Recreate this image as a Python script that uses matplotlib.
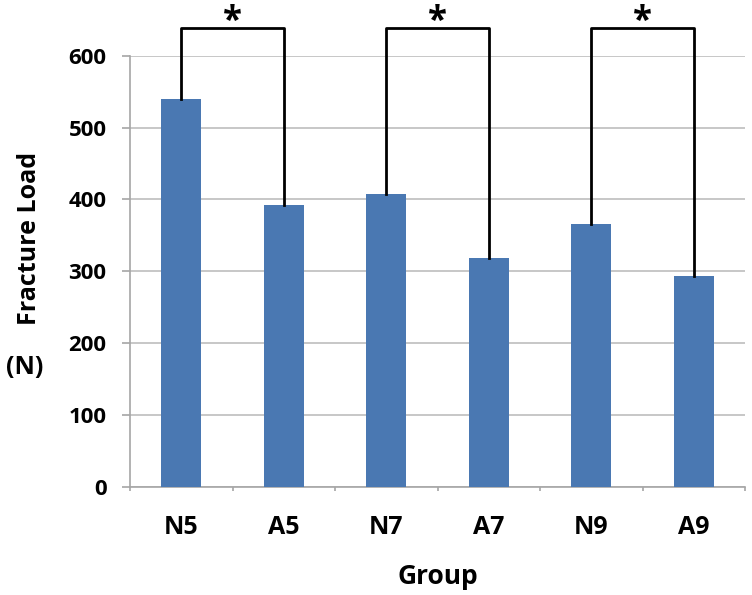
import matplotlib
matplotlib.use("Agg")
import matplotlib.pyplot as plt

categories = ["N5", "A5", "N7", "A7", "N9", "A9"]
values = [540, 392, 407, 318, 366, 293]
yticks = [0, 100, 200, 300, 400, 500, 600]
pairs = [(0, 1), (2, 3), (4, 5)]
bracket_level = 639
sig_label = "*"

plt.rcParams['font.family'] = ['Open Sans', 'DejaVu Sans']

fig = plt.figure(figsize=(7.52, 5.95), dpi=100)
ax = fig.add_axes([130/752, 1 - 487/595, 615/752, (487 - 55.7)/595])

x = list(range(len(categories)))
ax.bar(x, values, width=0.39, color='#4A78B2', zorder=3)

ax.set_xlim(-0.5, len(categories) - 0.5)
ax.set_ylim(0, 600)
ax.set_yticks(yticks)
ax.set_yticklabels([str(t) for t in yticks], fontsize=16, fontweight='bold')
ax.set_xticks(x)
ax.set_xticklabels(categories, fontsize=18, fontweight='bold')
ax.set_xticks([i - 0.5 for i in range(len(categories) + 1)], minor=True)

ax.grid(axis='y', color='#BDBDBD', linewidth=1.2, zorder=0)
for s in ['top', 'right']:
    ax.spines[s].set_visible(False)
for s in ['left', 'bottom']:
    ax.spines[s].set_color('#A6A6A6')
    ax.spines[s].set_linewidth(1.2)
ax.tick_params(axis='y', length=6, color='#A6A6A6', width=1.2, pad=11)
ax.tick_params(axis='x', which='major', length=0, pad=20)
ax.tick_params(axis='x', which='minor', length=3, color='#A6A6A6', width=1.2)

for a, b in pairs:
    ax.plot([a, a, b, b], [values[a], bracket_level, bracket_level, values[b]],
            color='black', linewidth=2, clip_on=False, zorder=4)
    ax.text((a + b) / 2, 672, sig_label, ha='center', va='top',
            fontsize=25, fontweight='bold', clip_on=False)

fig.text(30/752, 1 - 238/595, "Fracture Load", rotation=90, ha='center', va='center',
         fontsize=18, fontweight='bold')
fig.text(25/752, 1 - 368/595, "(N)", ha='center', va='center', fontsize=18, fontweight='bold')
ax.set_xlabel("Group", fontsize=19, fontweight='bold', labelpad=17)

fig.savefig("out.png", dpi=100)
